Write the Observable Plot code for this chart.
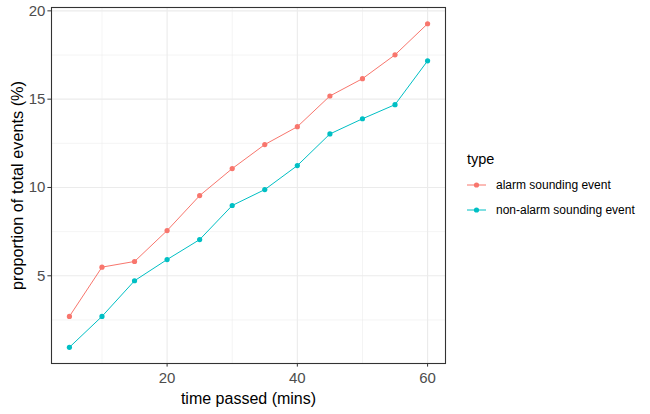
<!DOCTYPE html>
<html><head><meta charset="utf-8">
<script src="https://cdn.jsdelivr.net/npm/d3@7"></script>
<script src="https://cdn.jsdelivr.net/npm/@observablehq/plot@0.6"></script>
<style>
body{margin:0;background:#fff;font-family:"Liberation Sans",Arial,sans-serif;}
#wrap{position:relative;width:650px;height:414px;}
#legend{position:absolute;left:467px;top:151px;font-family:"Liberation Sans",Arial,sans-serif;color:#000;}
#legend .title{font-size:14.5px;margin-bottom:6px;}
#legend .item{display:flex;align-items:center;height:24.5px;font-size:12px;}
#legend svg{margin-right:10px;}
</style></head>
<body><div id="wrap"><div id="legend"></div></div>
<script>
const times = [5,10,15,20,25,30,35,40,45,50,55,60];
const alarm = [2.70,5.49,5.81,7.56,9.54,11.07,12.43,13.44,15.18,16.16,17.51,19.27];
const nonAlarm = [0.95,2.70,4.72,5.92,7.05,8.98,9.88,11.24,13.03,13.89,14.69,17.17];
const types = ["alarm sounding event","non-alarm sounding event"];
const colors = ["#F8766D","#00BFC4"];
const xTicks = [20,40,60];
const xMinor = [10,30,50];
const yTicks = [5,10,15,20];
const yMinor = [2.5,7.5,12.5,17.5];

const data = [];
times.forEach((t,i)=>{
  data.push({time:t, value:alarm[i], type:types[0]});
  data.push({time:t, value:nonAlarm[i], type:types[1]});
});

const chart = Plot.plot({
  width:650, height:414,
  marginLeft:51, marginRight:205, marginTop:7, marginBottom:51,
  x:{domain:[2.25,62.75]},
  y:{domain:[0.034,20.19]},
  color:{domain:types, range:colors},
  style:{fontFamily:"Liberation Sans, Arial, sans-serif", background:"#fff", overflow:"visible"},
  marks:[
    Plot.gridX(xMinor,{stroke:"#EBEBEB",strokeOpacity:1,strokeWidth:0.55}),
    Plot.gridY(yMinor,{stroke:"#EBEBEB",strokeOpacity:1,strokeWidth:0.55}),
    Plot.gridX(xTicks,{stroke:"#EBEBEB",strokeOpacity:1,strokeWidth:1.1}),
    Plot.gridY(yTicks,{stroke:"#EBEBEB",strokeOpacity:1,strokeWidth:1.1}),
    Plot.line(data,{x:"time",y:"value",stroke:"type",strokeWidth:1,curve:"linear"}),
    Plot.dot(data,{x:"time",y:"value",fill:"type",r:2.6}),
    Plot.frame({stroke:"#333333",strokeWidth:1.1}),
    Plot.axisX(xTicks,{tickSize:3.6,tickPadding:5,fontSize:15,fill:"#4D4D4D",stroke:"#333333",label:null,tickFormat:d=>String(d)}),
    Plot.axisY(yTicks,{tickSize:3.6,tickPadding:2.5,fontSize:15,fill:"#4D4D4D",stroke:"#333333",label:null,tickFormat:d=>String(d)}),
    Plot.text(["time passed (mins)"],{frameAnchor:"bottom",dy:40,fontSize:16,fill:"#000",textAnchor:"middle"}),
    Plot.text(["proportion of total events (%)"],{frameAnchor:"left",dx:-34,rotate:-90,fontSize:16.3,fill:"#000",textAnchor:"middle"})
  ]
});
document.getElementById("wrap").prepend(chart);

const leg = document.getElementById("legend");
leg.innerHTML = `<div class="title">type</div>` + types.map((t,i)=>
  `<div class="item"><svg width="19" height="10"><line x1="0" x2="19" y1="5" y2="5" stroke="${colors[i]}" stroke-width="1"/><circle cx="9.5" cy="5" r="2.6" fill="${colors[i]}"/></svg><span>${t}</span></div>`).join("");
</script></body></html>
